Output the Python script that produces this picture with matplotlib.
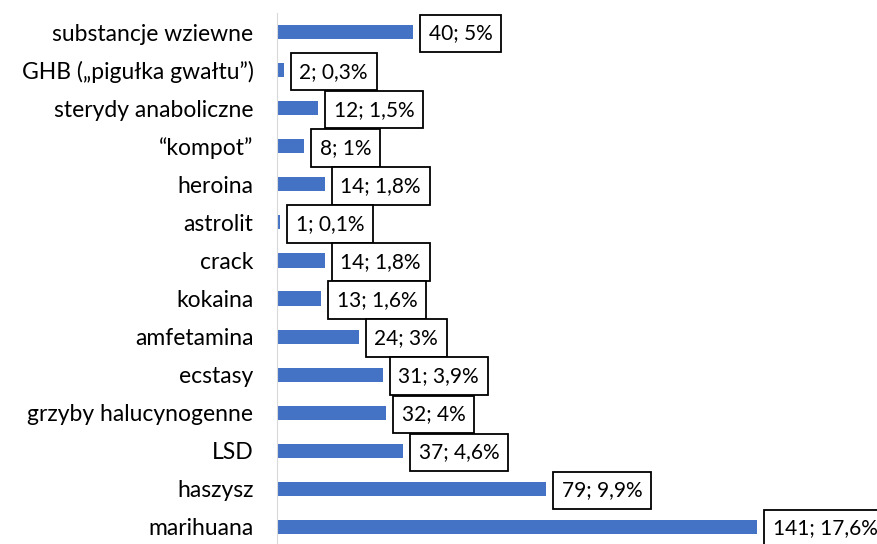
import matplotlib.pyplot as plt

categories = ["substancje wziewne", "GHB (\u201epigułka gwałtu\u201d)", "sterydy anaboliczne",
              "\u201ckompot\u201d", "heroina", "astrolit", "crack", "kokaina", "amfetamina",
              "ecstasy", "grzyby halucynogenne", "LSD", "haszysz", "marihuana"]
counts = [40, 2, 12, 8, 14, 1, 14, 13, 24, 31, 32, 37, 79, 141]
percents = ["5%", "0,3%", "1,5%", "1%", "1,8%", "0,1%", "1,8%", "1,6%", "3%",
            "3,9%", "4%", "4,6%", "9,9%", "17,6%"]

plt.rcParams['font.family'] = ['Lato', 'DejaVu Sans']

fig = plt.figure(figsize=(8.78, 5.44), dpi=100)
ax = fig.add_axes([277/878, -2/544, 545/878, 533/544])

ypos = list(range(len(categories)))
ax.barh(ypos, counts, height=0.37, color='#4472c4')
ax.set_ylim(len(categories) - 0.5, -0.5)
ax.set_xlim(0, 160)

ax.set_yticks(ypos)
ax.set_yticklabels(categories, fontsize=16.5)
ax.tick_params(axis='y', length=0, pad=17)
ax.set_xticks([])
for side in ['top', 'right', 'bottom']:
    ax.spines[side].set_visible(False)
ax.spines['left'].set_color('#d9d9d9')

for y, c, p in zip(ypos, counts, percents):
    ax.text(c + 4.6, y + 0.04, f"{c}; {p}", fontsize=15, va='center', ha='left',
            clip_on=False,
            bbox=dict(boxstyle='square,pad=0.42', fc='white', ec='black', lw=1.3))

fig.savefig("out.png", dpi=100)
